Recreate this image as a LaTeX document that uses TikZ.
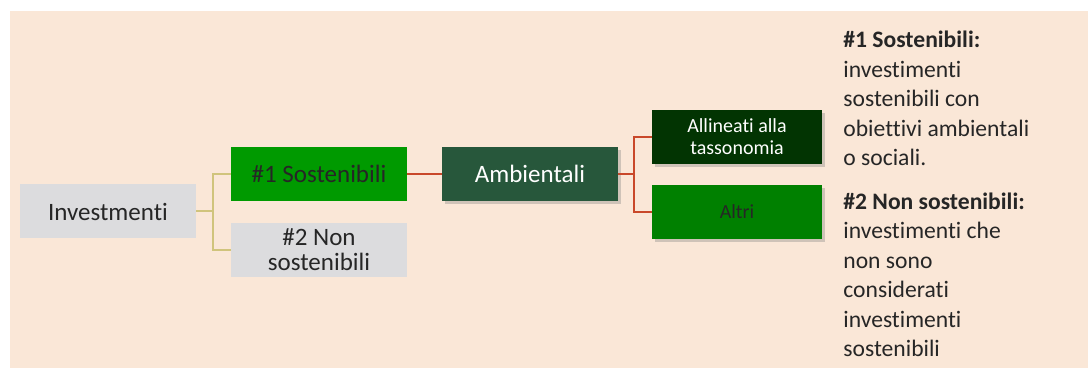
\documentclass[tikz,border=0pt]{standalone}
\usepackage{fontspec}
\setmainfont[Ligatures=NoCommon]{Carlito}
\usetikzlibrary{shadows}

\definecolor{sfondo}{HTML}{FAE7D7}
\definecolor{grigio}{HTML}{DCDCDE}
\definecolor{verde}{HTML}{009A00}
\definecolor{verdescuro}{HTML}{27573B}
\definecolor{verdenotte}{HTML}{023402}
\definecolor{verdealtri}{HTML}{008000}
\definecolor{testo}{HTML}{262626}
\definecolor{lineatan}{HTML}{D0C47C}
\definecolor{linearossa}{HTML}{C9482A}

\begin{document}
\begin{tikzpicture}[x=0.5pt,y=-0.5pt,
    box/.style={minimum width=88pt,minimum height=27pt,inner sep=1pt,align=center,
      text=testo,font=\fontsize{12.5}{12.5}\selectfont},
    smallbox/.style={box,minimum width=85pt,font=\fontsize{10}{11}\selectfont},
    ombra/.style={drop shadow={opacity=0.35,shadow xshift=1.5pt,shadow yshift=-1.5pt}},
    tanline/.style={draw=lineatan,line width=1pt},
    redline/.style={draw=linearossa,line width=1pt}]
    % page and background
    \useasboundingbox (0,0) rectangle (1088,368);
    \fill[sfondo] (10,11) rectangle (1088,368);
    % first level
    \node[box,fill=grigio] (inv) at (108,211.5) {Investmenti};
    \node[box,fill=verde] (sos) at (319,174) {\#1 Sostenibili};
    \node[box,fill=grigio] (non) at (319,250) {\#2 Non\\sostenibili};
    \draw[tanline] (inv.east) -- ++(17,0);
    \draw[tanline] (sos.west) -- ++(-18,0) |- (non.west);
    % second level
    \node[box,fill=verdescuro,text=white,ombra] (amb) at (530,174) {Ambientali};
    \draw[redline] (sos.east) -- (amb.west);
    \node[smallbox,fill=verdenotte,text=white,ombra] (all) at (737,137) {Allineati alla\\tassonomia};
    \node[smallbox,fill=verdealtri,ombra] (alt) at (737,212) {Altri};
    \draw[redline] (amb.east) -- ++(16,0);
    \draw[redline] (all.west) -- ++(-18,0) |- (alt.west);
    % legend
    \node[anchor=north west,inner sep=0pt,align=left,text=testo,
      font=\fontsize{11.8}{14.75}\selectfont] (legenda) at (843,31)
      {\textbf{\#1 Sostenibili:}\\investimenti\\sostenibili con\\obiettivi ambientali\\o sociali.\\[7pt]
       \textbf{\#2 Non sostenibili:}\\investimenti che\\non sono\\considerati\\investimenti\\sostenibili};
\end{tikzpicture}
\end{document}
